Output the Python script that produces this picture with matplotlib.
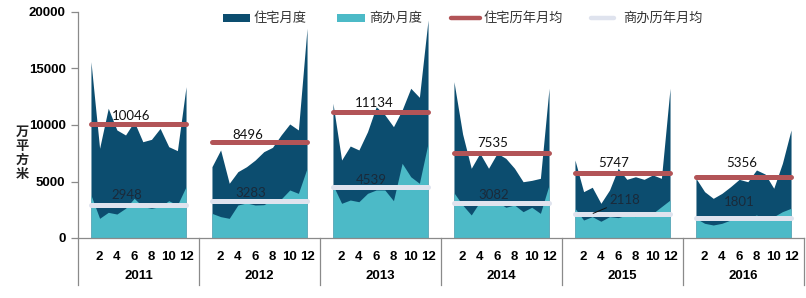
import matplotlib
matplotlib.use("Agg")
import matplotlib.pyplot as plt
from matplotlib.lines import Line2D
from matplotlib.patches import Rectangle

# ---------------- data ----------------
years = ["2011", "2012", "2013", "2014", "2015", "2016"]
month_ticks = [2, 4, 6, 8, 10, 12]

res_monthly = [
    [15600, 7940, 11480, 9560, 9115, 10300, 8520, 8730, 9700, 8080, 7730, 13390],
    [6310, 7790, 4840, 5870, 6310, 6900, 7640, 8020, 9115, 10090, 9560, 18560],
    [11920, 6900, 8140, 7790, 9410, 11620, 10900, 9850, 11330, 13250, 12450, 19290],
    [13830, 9200, 6170, 7500, 6170, 7500, 7050, 6170, 4980, 5100, 5280, 13250],
    [6900, 4100, 4490, 3070, 4250, 6170, 5190, 5420, 5190, 5580, 5280, 13250],
    [5280, 4100, 3510, 3950, 4540, 5190, 4980, 6020, 5660, 4400, 6610, 9560],
]
com_monthly = [
    [3800, 1740, 2270, 2120, 2630, 3510, 2770, 2630, 2770, 3300, 2920, 4540],
    [2180, 1890, 1740, 2920, 3100, 2920, 2950, 3360, 3450, 4250, 3950, 6170],
    [4690, 3070, 3360, 3210, 3950, 4250, 4250, 3300, 6610, 5420, 4840, 8380],
    [4000, 2920, 2040, 3210, 3100, 3210, 2720, 2920, 2330, 2720, 2180, 4690],
    [2630, 1590, 1890, 1480, 1890, 1800, 2040, 1890, 2330, 2180, 2770, 3360],
    [1740, 1300, 1150, 1300, 1590, 1590, 1740, 2040, 1590, 1890, 2330, 2630],
]
res_avg = [10046, 8496, 11134, 7535, 5747, 5356]
com_avg = [2948, 3283, 4539, 3082, 2118, 1801]

legend_labels = ["住宅月度", "商办月度", "住宅历年月均", "商办历年月均"]
y_label = "万平方米"

# ---------------- style / layout ----------------
DARK = "#0c4d6f"
LIGHT = "#4cbac7"
RED = "#b25457"
PALE = "#dfe3ee"
AXC = "#8a8a8a"
SLOTS = 14  # blank, 12 months, blank

res_lab_month = [5.7, 5.1, 5.8, 5.5, 5.5, 6.25]
com_lab_month = [5.1, 5.5, 5.4, 5.6, 6.75, 6.05]
res_lab_off = [8, 7, 9.5, 10, 10, 14]
com_lab_off = [10, 7.6, 6.7, 8, 14, 16]

W, H = 806, 298
fig = plt.figure(figsize=(W / 100, H / 100), dpi=100)
ax = fig.add_axes([78 / W, 1 - 238 / H, (804 - 78) / W, (238 - 12) / H])

def px(x, y):
    return (x / W, 1 - y / H)

cjk = ["Noto Sans CJK SC", "DejaVu Sans"]
num_font = "Liberation Sans"
lab_font = "Lato"

for i in range(len(years)):
    xs = [SLOTS * i + m for m in range(1, 13)]
    ax.fill_between(xs, res_monthly[i], 0, color=DARK, lw=0, zorder=1)
    ax.fill_between(xs, com_monthly[i], 0, color=LIGHT, lw=0, zorder=2)
    ax.plot([xs[0], xs[-1]], [res_avg[i]] * 2, color=RED, lw=3.6,
            solid_capstyle="round", zorder=3)
    ax.plot([xs[0], xs[-1]], [com_avg[i]] * 2, color=PALE, lw=3.6,
            solid_capstyle="round", zorder=3)
    ax.annotate(str(res_avg[i]), xy=(SLOTS * i + res_lab_month[i], res_avg[i]),
                xytext=(0, res_lab_off[i]), textcoords="offset pixels",
                ha="center", va="center", fontsize=9.5, family=lab_font,
                color="#111111", zorder=5)
    if i == 4:
        ax.annotate(str(com_avg[i]), xy=(SLOTS * i + 3.1, com_avg[i] + 60),
                    xytext=(SLOTS * i + com_lab_month[i], com_avg[i]),
                    textcoords="data", ha="center", va="center",
                    fontsize=9.5, family=lab_font, color="#1a2a3a", zorder=5,
                    arrowprops=dict(arrowstyle="-", color="#111111", lw=0.7,
                                    shrinkA=0, shrinkB=0))
        ax.texts[-1].set_position((SLOTS * i + com_lab_month[i],
                                   com_avg[i] + com_lab_off[i] / 0.0113))
    else:
        ax.annotate(str(com_avg[i]), xy=(SLOTS * i + com_lab_month[i], com_avg[i]),
                    xytext=(0, com_lab_off[i]), textcoords="offset pixels",
                    ha="center", va="center", fontsize=9.5, family=lab_font,
                    color="#1a2a3a", zorder=5)

n = SLOTS * len(years)
ax.set_xlim(-0.5, n - 0.5)
ax.set_ylim(0, 20000)

for s in ["top", "right"]:
    ax.spines[s].set_visible(False)
for s in ["left", "bottom"]:
    ax.spines[s].set_color(AXC)
    ax.spines[s].set_linewidth(0.9)
ax.spines["bottom"].set_zorder(6)

ax.set_yticks([0, 5000, 10000, 15000, 20000])
ax.set_yticklabels(["0", "5000", "10000", "15000", "20000"],
                   fontfamily=num_font, fontweight="bold", fontsize=9.5)
ax.tick_params(axis="y", length=5, color=AXC, width=0.9, pad=4)

xt, xl = [], []
for i in range(len(years)):
    for m in month_ticks:
        xt.append(SLOTS * i + m)
        xl.append(str(m))
ax.set_xticks(xt)
ax.set_xticklabels(xl, fontfamily=num_font, fontweight="bold", fontsize=9.5)
ax.tick_params(axis="x", length=0, pad=9)

trans = ax.get_xaxis_transform()
ext = -47 / 226
ax.add_line(Line2D([-0.5, -0.5], [0, ext], transform=trans, color=AXC,
                   lw=0.9, clip_on=False))
for i in range(1, len(years) + 1):
    ax.add_line(Line2D([SLOTS * i - 0.5] * 2, [0, ext], transform=trans,
                       color=AXC, lw=0.9, clip_on=False))
for i, yr in enumerate(years):
    ax.text(SLOTS * i + 6.5, -38 / 226, yr, transform=trans, ha="center",
            va="center", fontfamily=num_font, fontweight="bold", fontsize=9.5)

# y label (vertical stacked characters)
fig.text(*px(22, 153), "\n".join(y_label), ha="center", va="center",
         family=cjk, fontsize=9.5, fontweight="bold", linespacing=1.0,
         color="#222222")

# legend (manual)
leg_y = 18
fig.patches.append(Rectangle(px(223, 22), 27 / W, 8 / H, transform=fig.transFigure,
                             color=DARK, lw=0))
fig.patches.append(Rectangle(px(337, 22), 28 / W, 8 / H, transform=fig.transFigure,
                             color=LIGHT, lw=0))
fig.add_artist(Line2D([451 / W, 480 / W], [1 - leg_y / H] * 2,
                      transform=fig.transFigure, color=RED, lw=3.2,
                      solid_capstyle="round"))
fig.add_artist(Line2D([591 / W, 614 / W], [1 - leg_y / H] * 2,
                      transform=fig.transFigure, color=PALE, lw=3.2,
                      solid_capstyle="round"))
for xpos, txt in zip([254, 369, 484, 623], legend_labels):
    fig.text(*px(xpos, leg_y), txt, ha="left", va="center", family=cjk,
             fontsize=9.5, color="#333333")

fig.savefig("out.png", dpi=100)
